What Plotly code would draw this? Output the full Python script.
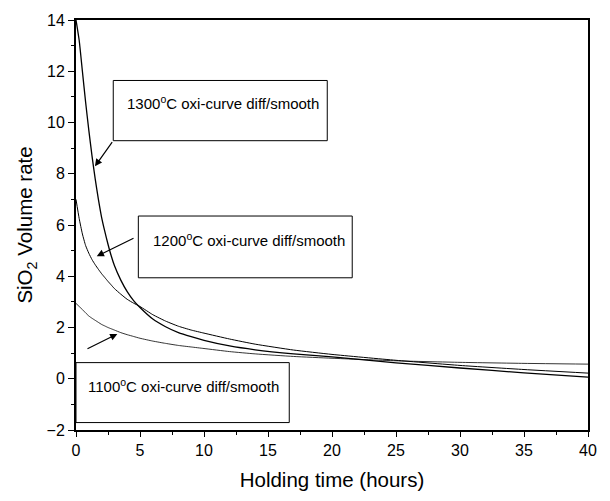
import plotly.graph_objects as go

hours = [0, 0.25, 0.5, 0.75, 1, 1.25, 1.5, 1.75, 2, 2.25, 2.5, 2.75, 3, 3.5, 4, 4.5, 5,
         6, 7, 8, 9, 10, 12, 14, 17, 20, 25, 30, 35, 40]
rate_1300 = [14.0, 13.2, 12.0, 10.8, 9.7, 8.7, 7.8, 7.0, 6.3, 5.75, 5.25, 4.8, 4.42, 3.85, 3.4, 3.05, 2.78,
             2.33, 2.03, 1.8, 1.64, 1.5, 1.28, 1.13, 0.97, 0.85, 0.62, 0.42, 0.23, 0.06]
rate_1200 = [7.0, 6.25, 5.65, 5.2, 4.9, 4.65, 4.45, 4.27, 4.1, 3.95, 3.8, 3.66, 3.52, 3.3, 3.1, 2.95, 2.82,
             2.5, 2.25, 2.05, 1.9, 1.78, 1.55, 1.35, 1.12, 0.95, 0.72, 0.52, 0.36, 0.22]
rate_1100 = [2.94, 2.82, 2.7, 2.57, 2.45, 2.36, 2.28, 2.2, 2.12, 2.06, 2.0, 1.95, 1.9, 1.8, 1.72, 1.65, 1.58,
             1.47, 1.38, 1.3, 1.24, 1.18, 1.06, 0.97, 0.87, 0.8, 0.7, 0.64, 0.6, 0.57]

labels = ["1300<sup>o</sup>C oxi-curve diff/smooth",
          "1200<sup>o</sup>C oxi-curve diff/smooth",
          "1100<sup>o</sup>C oxi-curve diff/smooth"]

FONT = "Liberation Sans, Arial, sans-serif"

fig = go.Figure()
for ys, w in [(rate_1300, 1.3), (rate_1200, 1.0), (rate_1100, 0.8)]:
    fig.add_trace(go.Scatter(x=hours, y=ys, mode="lines",
                             line=dict(color="black", width=w, shape="spline", smoothing=0.5),
                             showlegend=False, hoverinfo="skip"))

# label boxes (data coords)
boxes = [(2.91, 9.29, 19.63, 11.64), (4.87, 3.94, 21.58, 6.35), (0.0, -1.71, 16.66, 0.63)]
for x0, y0, x1, y1 in boxes:
    fig.add_shape(type="rect", x0=x0, y0=y0, x1=x1, y1=y1, xref="x", yref="y",
                  line=dict(color="black", width=1), layer="below")

text_pos = [(3.8, 10.8), (5.85, 5.45), (0.75, -0.28)]
for (tx, ty), lab in zip(text_pos, labels):
    fig.add_annotation(x=tx, y=ty, xref="x", yref="y", text=lab, showarrow=False,
                       xanchor="left", yanchor="middle",
                       font=dict(family=FONT, size=15, color="black"))

arrows = [((2.91, 9.29), (1.48, 8.29)), ((4.61, 5.51), (1.62, 4.78)), ((0.78, 1.14), (3.23, 1.75))]
for (tx, ty), (hx, hy) in arrows:
    fig.add_annotation(x=hx, y=hy, ax=tx, ay=ty, xref="x", yref="y", axref="x", ayref="y",
                       text="", showarrow=True, arrowhead=2, arrowsize=1.2, arrowwidth=1.2,
                       arrowcolor="black")

fig.update_layout(
    width=610, height=501,
    margin=dict(l=76, r=22, t=15, b=71),
    paper_bgcolor="white", plot_bgcolor="white",
    font=dict(family=FONT, size=16, color="black"),
)
fig.update_xaxes(range=[0, 40], dtick=5, tick0=0, showgrid=False, zeroline=False,
                 showline=True, linecolor="black", linewidth=2, mirror=True,
                 ticks="outside", ticklen=5, tickwidth=1.2, tickcolor="black",
                 minor=dict(dtick=2.5, ticks="outside", ticklen=3, tickcolor="black", showgrid=False),
                 title=dict(text="Holding time (hours)", font=dict(size=20.5), standoff=14),
                 tickfont=dict(size=16))
fig.update_yaxes(range=[-2, 14], dtick=2, tick0=0, showgrid=False, zeroline=False,
                 showline=True, linecolor="black", linewidth=2, mirror=True,
                 ticks="outside", ticklen=6, tickwidth=1.2, tickcolor="black",
                 minor=dict(dtick=1, ticks="outside", ticklen=3, tickcolor="black", showgrid=False),
                 title=dict(text="SiO<sub>2</sub> Volume rate", font=dict(size=20.5), standoff=8),
                 tickfont=dict(size=16))

fig.write_html("out.html")
